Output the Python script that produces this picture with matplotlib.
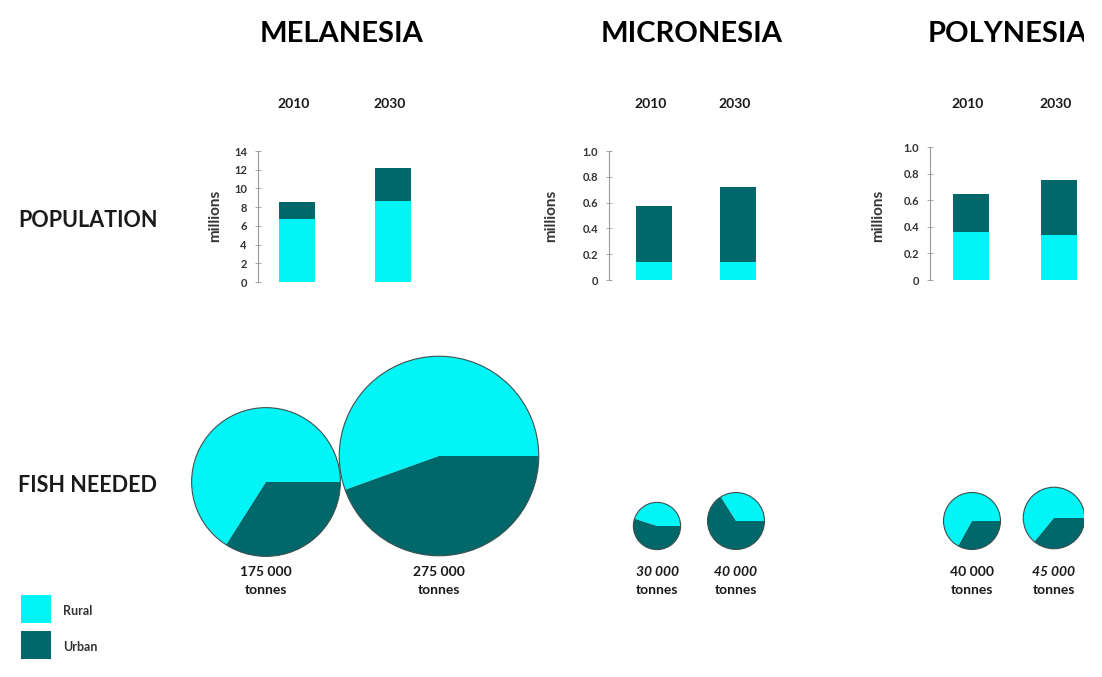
import matplotlib
matplotlib.use("Agg")
import matplotlib.pyplot as plt
import matplotlib.patches as mpatches

plt.rcParams['font.family'] = ['Lato', 'DejaVu Sans']

# ---- data ----
regions = ['MELANESIA', 'MICRONESIA', 'POLYNESIA']
years = ['2010', '2030']

# population, millions
rural_pop = [[6.7, 8.7], [0.14, 0.14], [0.36, 0.34]]
urban_pop = [[1.8, 3.5], [0.43, 0.58], [0.29, 0.41]]
pop_ticks = [[0, 2, 4, 6, 8, 10, 12, 14],
             [0, 0.2, 0.4, 0.6, 0.8, 1.0],
             [0, 0.2, 0.4, 0.6, 0.8, 1.0]]
pop_tick_labels = [['0', '2', '4', '6', '8', '10', '12', '14'],
                   ['0', '0.2', '0.4', '0.6', '0.8', '1.0'],
                   ['0', '0.2', '0.4', '0.6', '0.8', '1.0']]

# fish needed, tonnes, and the rural share of it
fish_tonnes = [[175000, 275000], [30000, 40000], [40000, 45000]]
fish_rural_share = [[0.66, 0.555], [0.45, 0.34], [0.67, 0.64]]
fish_labels = [['175 000', '275 000'], ['30 000', '40 000'], ['40 000', '45 000']]

legend_labels = ['Rural', 'Urban']

RURAL = '#00F6F6'
URBAN = '#00676A'
TEXT = '#1a1a1a'

# ---- layout (pixels) ----
W, H = 1102, 677
title_x = [342, 692, 1008]
# bar panels: spine x, top (y max), bottom (y=0), first bar centre, bar spacing, ylabel x
panels = [dict(spine=258, top=151, bottom=282, first=296.5, step=96.5, ylab=215),
          dict(spine=609, top=151, bottom=280, first=654, step=84, ylab=551),
          dict(spine=930, top=147, bottom=280, first=971, step=87.5, ylab=878)]
bar_px = 36
pie_centres = [[(266, 482), (439, 456)],
               [(657, 526), (736, 521)],
               [(972, 521), (1054, 518)]]


def pie_radius(tonnes):
    # pie radius grows a bit faster than sqrt of the tonnage
    return 0.02907 * tonnes ** 0.65


fig = plt.figure(figsize=(W / 100, H / 100), dpi=100)
fig.patch.set_facecolor('white')


def fx(x):
    return x / W


def fy(y):
    return 1 - y / H


# row headers
fig.text(fx(18), fy(220), 'POPULATION', fontsize=15.5, fontweight='bold',
         color=TEXT, ha='left', va='center')
fig.text(fx(18), fy(485), 'FISH NEEDED', fontsize=15.5, fontweight='bold',
         color=TEXT, ha='left', va='center')

for i, region in enumerate(regions):
    fig.text(fx(title_x[i]), fy(34), region, fontsize=21, fontweight='bold',
             color='black', ha='center', va='center')

    p = panels[i]
    right = p['first'] + p['step'] + 45
    ax = fig.add_axes([fx(p['spine']), fy(p['bottom']),
                       (right - p['spine']) / W, (p['bottom'] - p['top']) / H])
    xs = list(range(len(years)))
    w = bar_px / p['step']
    ax.bar(xs, rural_pop[i], width=w, color=RURAL, linewidth=0)
    ax.bar(xs, urban_pop[i], width=w, bottom=rural_pop[i], color=URBAN, linewidth=0)
    ax.set_xlim((p['spine'] - p['first']) / p['step'], (right - p['first']) / p['step'])
    ax.set_ylim(0, pop_ticks[i][-1])
    ax.set_yticks(pop_ticks[i])
    ax.set_yticklabels(pop_tick_labels[i], fontsize=8, fontweight='bold', color='#333333')
    ax.set_xticks([])
    ax.tick_params(axis='y', direction='inout', length=4, width=0.6, color='#999999', pad=6)
    for side in ['top', 'right', 'bottom']:
        ax.spines[side].set_visible(False)
    ax.spines['left'].set_color('#999999')
    ax.spines['left'].set_linewidth(0.8)
    ax.patch.set_alpha(0)

    # year headers above each bar
    for x, yr in zip(xs, years):
        px = p['first'] + x * p['step']
        fig.text(fx(px - 3), fy(104), yr, fontsize=10, fontweight='bold',
                 color=TEXT, ha='center', va='center')

    fig.text(fx(p['ylab']), fy(216), 'millions', fontsize=11, fontweight='bold',
             color='#333333', rotation=90, ha='center', va='center')

# fish pies on an overlay in pixel units
ax_p = fig.add_axes([0, 0, 1, 1])
for i in range(len(regions)):
    for j in range(len(years)):
        cx, cy = pie_centres[i][j]
        r = pie_radius(fish_tonnes[i][j])
        share = fish_rural_share[i][j]
        ax_p.pie([share, 1 - share], colors=[RURAL, URBAN], startangle=0,
                 center=(cx, H - cy), radius=r,
                 wedgeprops=dict(linewidth=0))
        ax_p.add_patch(mpatches.Circle((cx, H - cy), r, fill=False,
                                       edgecolor='#3d5050', linewidth=0.8))
        style = 'italic' if (i == 1 or (i == 2 and j == 1)) else 'normal'
        ax_p.text(cx, H - 572, fish_labels[i][j], fontsize=10, fontweight='bold',
                  fontstyle=style, color=TEXT, ha='center', va='center')
        ax_p.text(cx, H - 590, 'tonnes', fontsize=10, fontweight='bold',
                  color=TEXT, ha='center', va='center')

# legend swatches
for k, (lab, col) in enumerate(zip(legend_labels, [RURAL, URBAN])):
    top = 595 + k * 36
    ax_p.add_patch(mpatches.Rectangle((21, H - top - 28), 30, 28,
                                      facecolor=col, edgecolor='none'))
    ax_p.text(63, H - top - 16, lab, fontsize=9, fontweight='bold',
              color='#333333', ha='left', va='center')

ax_p.set_xlim(0, W)
ax_p.set_ylim(0, H)
ax_p.set_aspect('equal')
ax_p.axis('off')

# page edge trims the last column
fig.add_artist(mpatches.Rectangle((fx(1084), 0), 1 - fx(1084), 1,
                                  transform=fig.transFigure, facecolor='white',
                                  edgecolor='none', zorder=20))

fig.savefig('out.png', dpi=100, facecolor='white')
